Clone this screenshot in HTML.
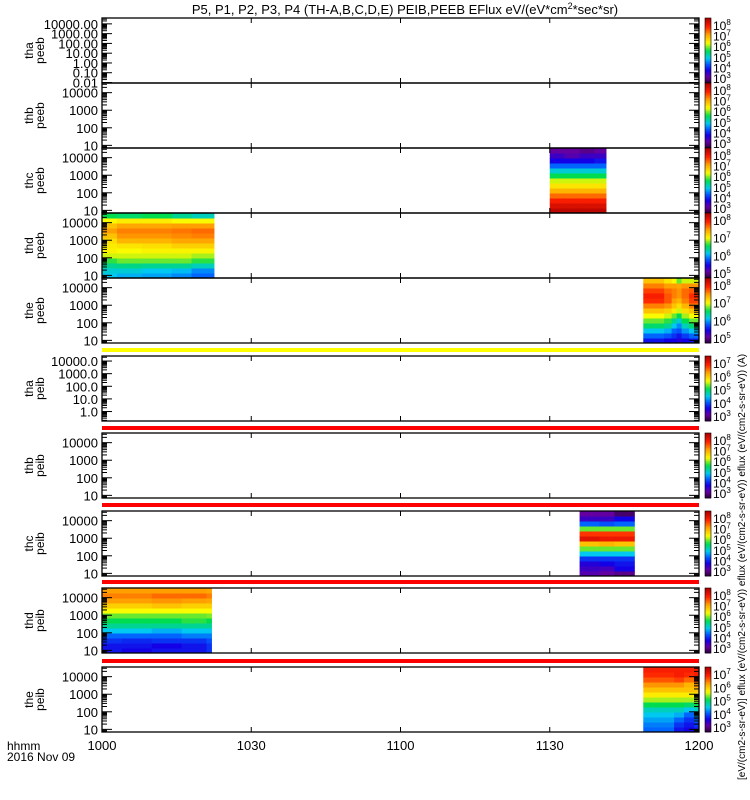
<!DOCTYPE html>
<html><head><meta charset="utf-8"><style>
body{margin:0;background:#fff;}
svg{display:block;font-family:"Liberation Sans",sans-serif;}
</style></head><body>
<svg id="chart" width="750" height="800" viewBox="0 0 750 800">
<rect width="750" height="800" fill="#fff"/>
<text x="405" y="14" font-size="13" text-anchor="middle">P5, P1, P2, P3, P4 (TH-A,B,C,D,E) PEIB,PEEB EFlux eV/(eV*cm<tspan font-size="9" dy="-5">2</tspan><tspan dy="5">*sec*sr)</tspan></text>
<text x="7" y="750" font-size="12">hhmm</text>
<text x="7" y="761" font-size="12">2016 Nov 09</text>
<text transform="translate(745,780) rotate(-90)" font-size="10">[eV/(cm2-s-sr-eV)] eflux (eV/(cm2-s-sr-eV)) eflux (eV/(cm2-s-sr-eV)) eflux (eV/(cm2-s-sr-eV)) (A)</text>
</svg>
<script>
// ---- data ----
const xTickLabels = ["1000","1030","1100","1130","1200"];
const xTickMinutes = [0,30,60,90,120];
const panelNames = [["tha","peeb"],["thb","peeb"],["thc","peeb"],["thd","peeb"],["the","peeb"],["tha","peib"],["thb","peib"],["thc","peib"],["thd","peib"],["the","peib"]];
const panelLogMin = [-2.05,0.85,0.85,0.85,0.85,-0.75,0.85,0.85,0.85,0.85];
const panelLogMax = [4.6,4.55,4.55,4.55,4.55,4.4,4.55,4.55,4.55,4.55];
const panelDecimals = [2,0,0,0,0,1,0,0,0,0];
const cbarExpMin = [3,3,3,5,5,3,3,3,3,3];
const cbarExpMax = [8,8,8,8,8,7,8,8,8,7];
const stripeColors = ["#ffff00","#ff0000","#ff0000","#ff0000","#ff0000"];

const thcPeebTimes = [90,93,96,99,100.5,101.3];
const thcPeebLevels = [
 [0.97,0.93,0.88,0.8,0.72,0.65,0.6,0.5,0.4,0.3,0.2,0.15,0.1],
 [0.97,0.93,0.88,0.8,0.72,0.65,0.6,0.5,0.4,0.3,0.2,0.12,0.1],
 [0.97,0.93,0.88,0.8,0.72,0.65,0.6,0.5,0.4,0.3,0.2,0.15,0.08],
 [0.97,0.93,0.88,0.8,0.72,0.65,0.6,0.5,0.4,0.3,0.22,0.15,0.1],
 [0.97,0.93,0.88,0.8,0.72,0.65,0.6,0.5,0.4,0.3,0.22,0.15,0.1]];
const thdPeebTimes = [0,3,8,14,18,22.5];
const thdPeebLevels = [
 [0.38,0.4,0.45,0.52,0.6,0.63,0.64,0.66,0.7,0.75,0.7,0.62,0.5],
 [0.36,0.4,0.46,0.55,0.6,0.62,0.65,0.72,0.76,0.78,0.74,0.64,0.48],
 [0.35,0.38,0.45,0.55,0.6,0.63,0.66,0.72,0.76,0.78,0.74,0.64,0.5],
 [0.33,0.37,0.45,0.55,0.6,0.63,0.68,0.74,0.77,0.79,0.75,0.62,0.45],
 [0.3,0.33,0.42,0.52,0.58,0.63,0.68,0.74,0.78,0.8,0.75,0.62,0.42]];
const thePeebTimes = [108.8,113,114.5,115.5,116.5,118,120];
const thePeebLevels = [
 [0.22,0.3,0.38,0.48,0.55,0.62,0.7,0.78,0.86,0.88,0.84,0.78,0.7],
 [0.2,0.28,0.36,0.45,0.52,0.6,0.68,0.76,0.82,0.82,0.8,0.75,0.65],
 [0.2,0.25,0.3,0.38,0.45,0.55,0.64,0.7,0.75,0.78,0.78,0.75,0.62],
 [0.18,0.22,0.28,0.33,0.4,0.5,0.6,0.66,0.72,0.76,0.76,0.74,0.55],
 [0.2,0.26,0.34,0.42,0.5,0.58,0.66,0.72,0.78,0.8,0.8,0.76,0.6],
 [0.22,0.3,0.38,0.48,0.55,0.62,0.7,0.78,0.84,0.86,0.82,0.76,0.6]];
const thcPeibTimes = [96,100,103,107];
const thcPeibLevels = [
 [0.12,0.15,0.18,0.25,0.38,0.55,0.7,0.92,0.85,0.55,0.3,0.15,0.1],
 [0.1,0.14,0.2,0.25,0.38,0.55,0.72,0.9,0.85,0.55,0.28,0.15,0.1],
 [0.08,0.2,0.22,0.25,0.38,0.55,0.7,0.9,0.85,0.55,0.3,0.2,0.05]];
const thdPeibTimes = [0,4,10,16,21,22];
const thdPeibLevels = [
 [0.22,0.22,0.25,0.3,0.38,0.45,0.5,0.55,0.62,0.68,0.75,0.78,0.75],
 [0.2,0.22,0.24,0.3,0.38,0.45,0.5,0.55,0.62,0.68,0.75,0.78,0.75],
 [0.22,0.2,0.25,0.3,0.36,0.45,0.5,0.55,0.62,0.7,0.76,0.8,0.75],
 [0.22,0.22,0.25,0.32,0.38,0.45,0.52,0.55,0.62,0.68,0.75,0.8,0.75],
 [0.25,0.25,0.28,0.32,0.38,0.45,0.5,0.56,0.62,0.68,0.74,0.78,0.74]];
const thePeibTimes = [108.8,115,117,119,120];
const thePeibLevels = [
 [0.3,0.32,0.35,0.38,0.42,0.5,0.58,0.64,0.7,0.76,0.82,0.86,0.88],
 [0.22,0.25,0.3,0.36,0.42,0.5,0.58,0.64,0.7,0.76,0.84,0.88,0.88],
 [0.2,0.22,0.25,0.3,0.38,0.48,0.58,0.64,0.7,0.72,0.8,0.86,0.88],
 [0.22,0.25,0.3,0.36,0.42,0.5,0.58,0.64,0.7,0.76,0.84,0.88,0.88]];
const spectroPanel = [2,3,4,7,8,9];
const spectroTimes = [thcPeebTimes,thdPeebTimes,thePeebTimes,thcPeibTimes,thdPeibTimes,thePeibTimes];
const spectroLevels = [thcPeebLevels,thdPeebLevels,thePeebLevels,thcPeibLevels,thdPeibLevels,thePeibLevels];

// ---- layout ----
const panelTop = [18,83,148,213,278,356,433,511,588,667];
const panelH = 65;
const stripeY = [348,426,503,580,659];
const X0 = 102, X1 = 699;
const NS = "http://www.w3.org/2000/svg";
const svg = document.getElementById('chart');
function el(tag, attrs){const e=document.createElementNS(NS,tag);for(const k in attrs)e.setAttribute(k,attrs[k]);svg.appendChild(e);return e;}
function xScale(m){return X0+(X1-X0)*m/120;}
function yScale(i,logv){return panelTop[i]+panelH-(logv-panelLogMin[i])/(panelLogMax[i]-panelLogMin[i])*panelH;}
const stops=[[0,[40,0,50]],[0.1,[100,0,160]],[0.2,[20,0,230]],[0.3,[0,100,255]],[0.38,[0,200,240]],[0.5,[0,220,80]],[0.62,[250,250,0]],[0.75,[255,160,0]],[0.87,[255,30,0]],[1,[170,0,0]]];
function cmap(t){t=Math.max(0,Math.min(1,t));for(let i=1;i<stops.length;i++){if(t<=stops[i][0]){const a=stops[i-1],b=stops[i];const f=(t-a[0])/(b[0]-a[0]);const c=a[1].map((v,k)=>Math.round(v+(b[1][k]-v)*f));return `rgb(${c})`;}}return 'rgb(170,0,0)';}

spectroPanel.forEach((p,s)=>{
  const times=spectroTimes[s], lv=spectroLevels[s];
  const top=panelTop[p], nR=lv[0].length;
  for(let c=0;c<lv.length;c++){
    for(let r=0;r<nR;r++){
      const y0=top+panelH-(r+1)*panelH/nR, x0=xScale(times[c]), x1=xScale(times[c+1]);
      const rc=el('rect',{x:x0,y:y0,width:x1-x0+0.5,height:panelH/nR+0.5,fill:cmap(lv[c][r])});
      
      
    }
  }
});

stripeY.forEach((y,i)=>{
  const r=el('rect',{x:X0,y:y,width:X1-X0,height:4,fill:stripeColors[i]});
  
  
});

panelTop.forEach((top,i)=>{
  const fr=el('rect',{x:X0,y:top,width:X1-X0,height:panelH,fill:'none',stroke:'#000','stroke-width':1.3});
  
  
  const lo=Math.ceil(panelLogMin[i]), hi=Math.floor(panelLogMax[i]);
  for(let d=Math.floor(panelLogMin[i]);d<=hi;d++){
    for(let m=1;m<10;m++){
      const lv=d+Math.log10(m); if(lv<panelLogMin[i]||lv>panelLogMax[i])continue;
      const y=yScale(i,lv), len=m===1?10:5;
      el('line',{x1:X0,x2:X0+len,y1:y,y2:y,stroke:'#000','stroke-width':1});
      el('line',{x1:X1-len,x2:X1,y1:y,y2:y,stroke:'#000','stroke-width':1});
    }
  }
  for(let d=lo;d<=hi;d++){
    const y=yScale(i,d);
    const t=el('text',{x:X0-4,y:y+5,'font-size':13,'text-anchor':'end'});
    t.textContent=Math.pow(10,d).toFixed(panelDecimals[i]);
    
    
  }
  xTickMinutes.forEach(m=>{const x=xScale(m);el('line',{x1:x,x2:x,y1:top,y2:top+5,stroke:'#000'});el('line',{x1:x,x2:x,y1:top+panelH-5,y2:top+panelH,stroke:'#000'});});
  const yl=el('text',{transform:`translate(36,${top+panelH/2}) rotate(-90)`,'font-size':12,'text-anchor':'middle'});
  yl.innerHTML=`<tspan x="0" dy="-3">${panelNames[i][0]}</tspan><tspan x="0" dy="11">${panelNames[i][1]}</tspan>`;
  
  
  const nb=40;
  for(let k=0;k<nb;k++){
    const r=el('rect',{x:705,y:top+panelH-(k+1)*panelH/nb,width:6,height:panelH/nb+0.4,fill:cmap((k+0.5)/nb)});
    
    
  }
  el('rect',{x:705,y:top,width:6,height:panelH,fill:'none',stroke:'#000','stroke-width':0.6});
  const eMin=cbarExpMin[i], eMax=cbarExpMax[i];
  for(let e=eMin;e<=eMax;e++){
    const y=top+panelH-4-(e-eMin)/(eMax-eMin)*(panelH-12);
    const t=el('text',{x:713,y:y+4,'font-size':12});
    t.innerHTML=`10<tspan font-size="8" dy="-5">${e}</tspan>`;
    
    
  }
});

xTickLabels.forEach((lab,k)=>{
  const t=el('text',{x:xScale(xTickMinutes[k]),y:750,'font-size':13,'text-anchor':'middle'});
  t.textContent=lab;
  
  
});
</script>
</body></html>
